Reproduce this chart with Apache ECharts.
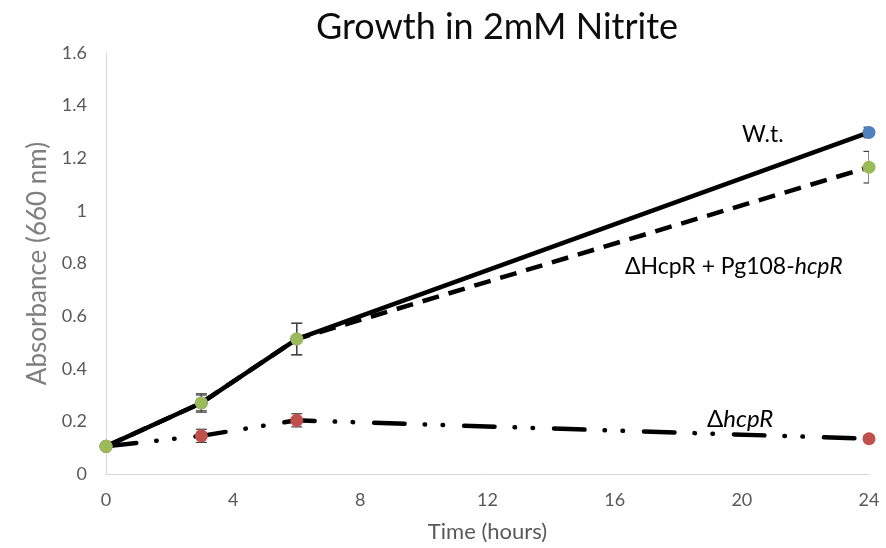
<!DOCTYPE html>
<html>
<head>
<meta charset="utf-8">
<script src="https://cdn.jsdelivr.net/npm/echarts@6/dist/echarts.min.js"></script>
<style>
  html, body { margin: 0; padding: 0; background: #fff; }
  #chart { width: 886px; height: 548px; }
</style>
</head>
<body>
<div id="chart"></div>
<script>
// Sampling times (hours)
const hours = [0, 3, 6, 24];

// Absorbance at 660 nm with standard deviations
const wildType = [0.105, 0.27, 0.513, 1.298];
const wildTypeErr = [0.005, 0.03, 0.06, 0.02];

const complemented = [0.105, 0.27, 0.513, 1.166];
const complementedErr = [0.005, 0.035, 0.06, 0.06];

const mutant = [0.105, 0.145, 0.204, 0.134];
const mutantErr = [0.005, 0.025, 0.025, 0.01];

const FONT = 'Lato, "Open Sans", sans-serif';

const pairs = (ys) => hours.map((h, i) => [h, ys[i]]);
const errPairs = (ys, es) => hours.map((h, i) => [h, ys[i], es[i]]);

// Vertical error bar with short caps, drawn in data coordinates
function errorBar(params, api) {
  const x = api.value(0), y = api.value(1), e = api.value(2);
  const top = api.coord([x, y + e]);
  const bot = api.coord([x, y - e]);
  const cap = 5.5;
  const style = { stroke: '#404040', lineWidth: 1.2 };
  return {
    type: 'group',
    children: [
      { type: 'line', shape: { x1: top[0], y1: top[1], x2: bot[0], y2: bot[1] }, style },
      { type: 'line', shape: { x1: top[0] - cap, y1: top[1], x2: top[0] + cap, y2: top[1] }, style },
      { type: 'line', shape: { x1: bot[0] - cap, y1: bot[1], x2: bot[0] + cap, y2: bot[1] }, style }
    ]
  };
}

// Series caption placed next to its curve
function caption(x, y, text, size) {
  return {
    type: 'text', x, y, z: 100,
    style: {
      text, fill: '#000', font: size + 'px ' + FONT,
      align: 'left', verticalAlign: 'middle',
      rich: { i: { fontStyle: 'italic', fontSize: size, fontFamily: FONT, fill: '#000' } }
    }
  };
}

const chart = echarts.init(document.getElementById('chart'), null, { renderer: 'canvas' });

chart.setOption({
  backgroundColor: '#fff',
  animation: false,
  title: {
    text: 'Growth in 2mM Nitrite',
    left: 492,
    textAlign: 'center',
    top: 4,
    textStyle: { fontFamily: FONT, fontSize: 36, fontWeight: 'normal', color: '#0d0d0d' }
  },
  grid: { left: 106, right: 17, top: 53, bottom: 71, containLabel: false },
  xAxis: {
    type: 'value',
    min: 0, max: 24, interval: 4,
    axisLine: { show: true, lineStyle: { color: '#d9d9d9', width: 1 } },
    axisTick: { show: false },
    splitLine: { show: false },
    axisLabel: { color: '#595959', fontSize: 18, fontFamily: FONT, margin: 17 },
    name: 'Time (hours)',
    nameLocation: 'middle',
    nameGap: 47,
    nameTextStyle: { color: '#595959', fontSize: 22, fontFamily: FONT }
  },
  yAxis: {
    type: 'value',
    min: 0, max: 1.6, interval: 0.2,
    axisLine: { show: true, lineStyle: { color: '#d9d9d9', width: 1 } },
    axisTick: { show: false },
    splitLine: { show: false },
    axisLabel: { color: '#595959', fontSize: 18, fontFamily: FONT, margin: 19 },
    name: 'Absorbance (660 nm)',
    nameLocation: 'middle',
    nameRotate: 90,
    nameGap: 42,
    nameTextStyle: { color: '#7f7f7f', fontSize: 26, fontFamily: FONT }
  },
  graphic: [
    caption(742, 135, 'W.t.', 23),
    caption(625, 267, 'ΔHcpR + Pg108-{i|hcpR}', 23),
    caption(707, 419, 'Δ{i|hcpR}', 24)
  ],
  series: [
    // Connecting lines
    {
      name: 'W.t.', type: 'line', data: pairs(wildType), z: 2,
      showSymbol: false, lineStyle: { color: '#000', width: 4.5 }, clip: false
    },
    {
      name: 'ΔHcpR + Pg108-hcpR', type: 'line', data: pairs(complemented), z: 2,
      showSymbol: false, lineStyle: { color: '#000', width: 4.5, type: [17, 10] }, clip: false
    },
    {
      name: 'ΔhcpR', type: 'line', data: pairs(mutant), z: 2,
      showSymbol: false,
      lineStyle: { color: '#000', width: 4.5, type: [30.5, 20, 0.5, 17.5, 0.5, 21], cap: 'round' },
      clip: false
    },
    // Error bars
    { type: 'custom', data: errPairs(wildType, wildTypeErr), renderItem: errorBar, z: 3, clip: true },
    { type: 'custom', data: errPairs(mutant, mutantErr), renderItem: errorBar, z: 3, clip: true },
    { type: 'custom', data: errPairs(complemented, complementedErr), renderItem: errorBar, z: 3, clip: true },
    // Markers
    {
      type: 'scatter', data: pairs(wildType), z: 4, symbol: 'circle', symbolSize: 13,
      itemStyle: { color: '#4f81bd', opacity: 1 }, clip: false
    },
    {
      type: 'scatter', data: pairs(mutant), z: 5, symbol: 'circle', symbolSize: 13,
      itemStyle: { color: '#c0504d', opacity: 1 }, clip: false
    },
    {
      type: 'scatter', data: pairs(complemented), z: 6, symbol: 'circle', symbolSize: 13,
      itemStyle: { color: '#9bbb59', opacity: 1 }, clip: false
    }
  ]
});
</script>
</body>
</html>
